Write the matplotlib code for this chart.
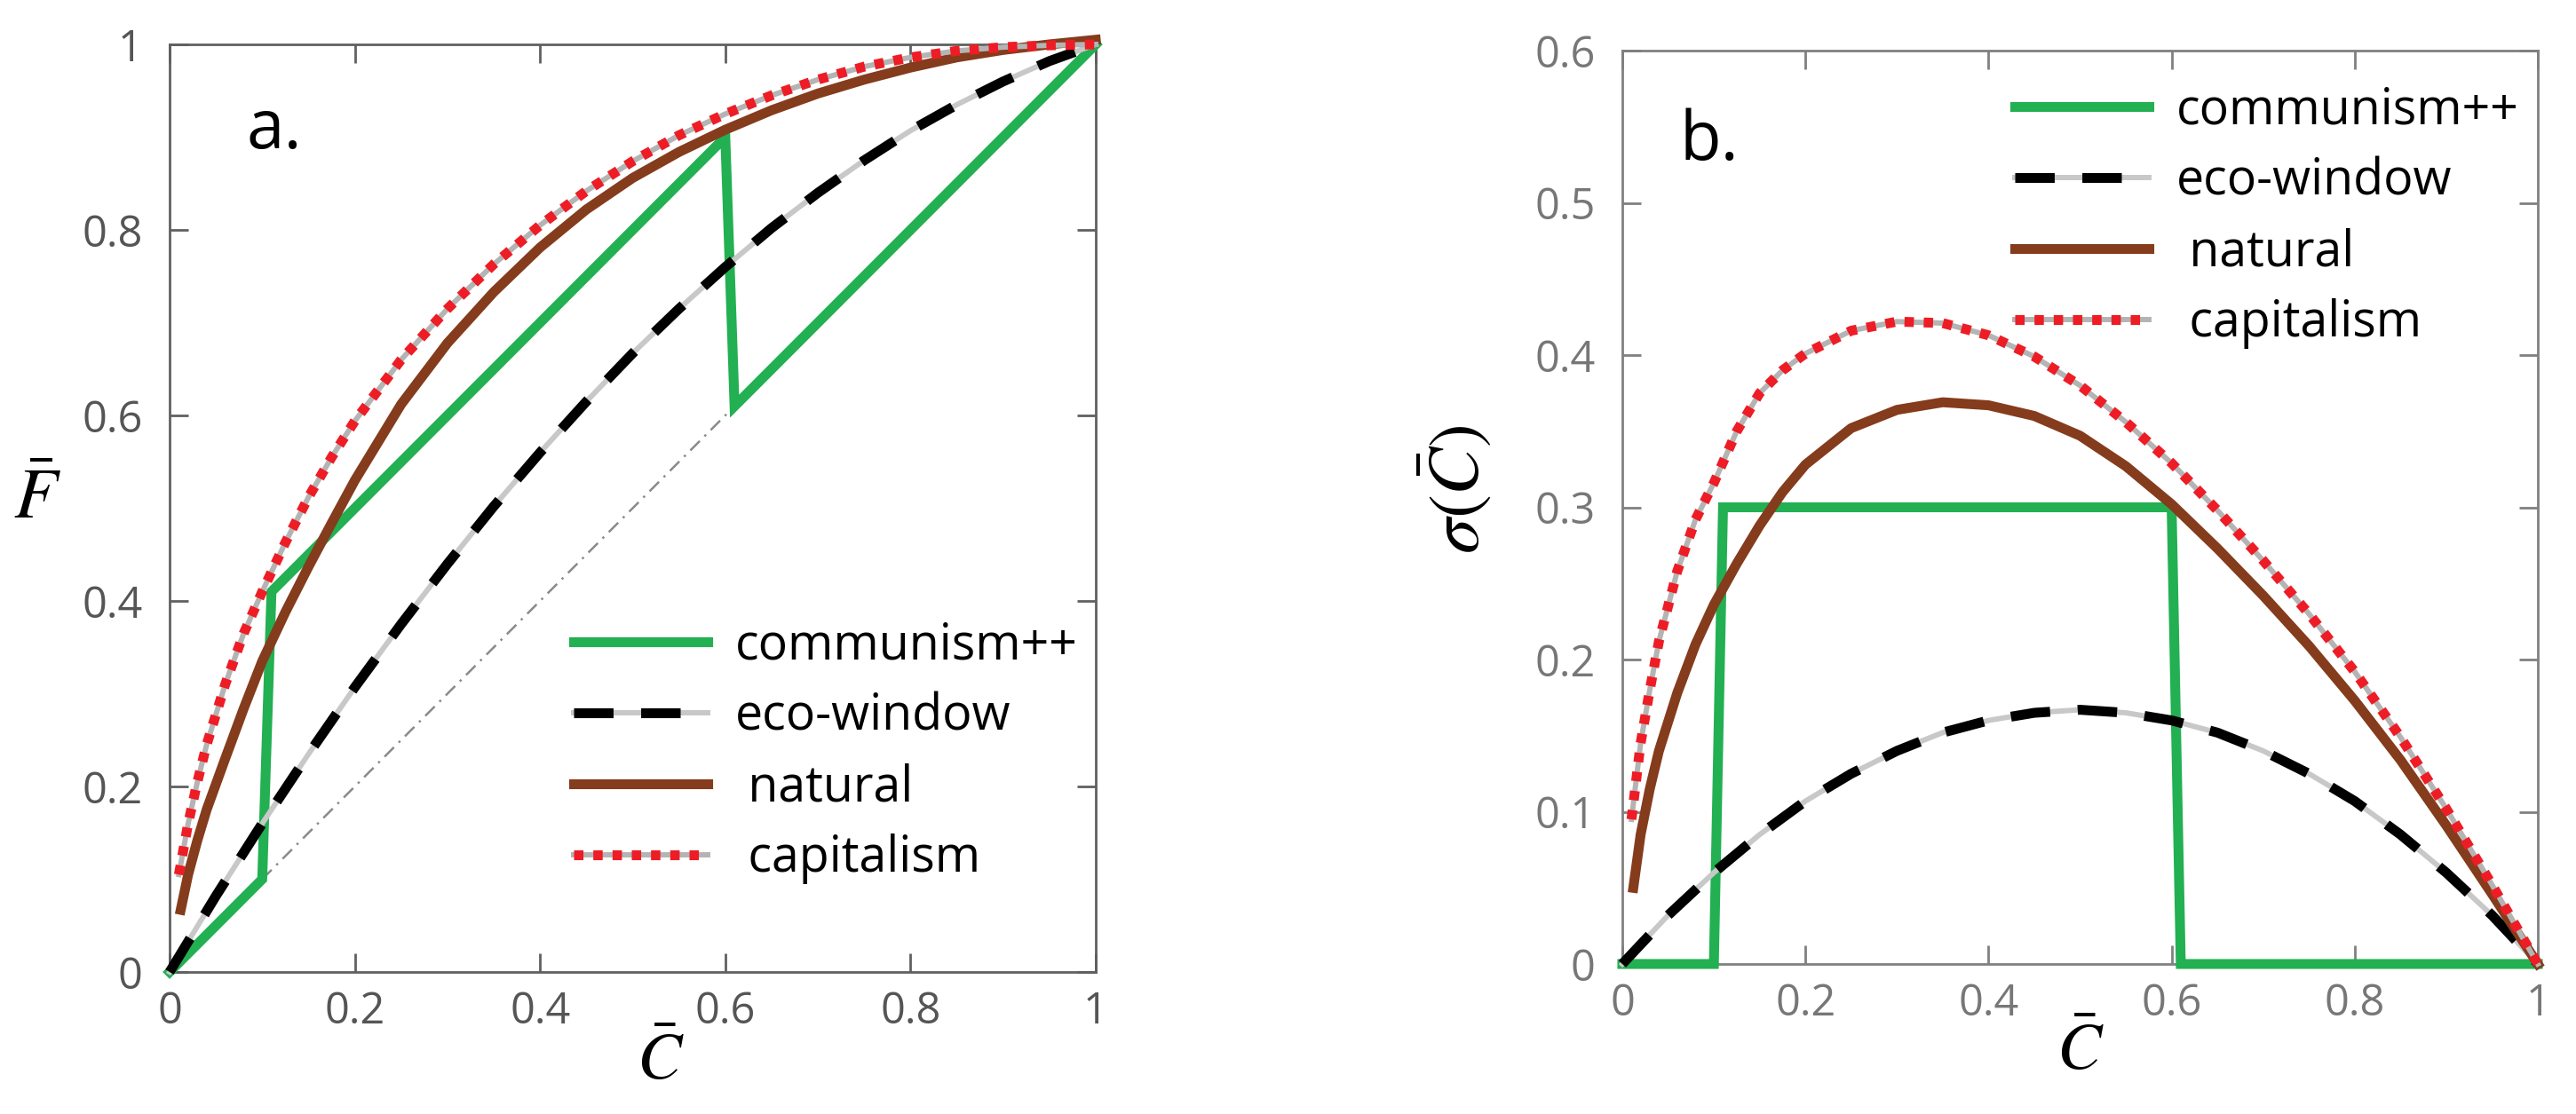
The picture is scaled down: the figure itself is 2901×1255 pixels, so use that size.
import matplotlib
matplotlib.use("Agg")
import matplotlib.pyplot as plt
from matplotlib.legend_handler import HandlerTuple

# values
# grids for the "natural" and "capitalism" curves
c_cap = [0.01, 0.02, 0.03, 0.04, 0.06, 0.08, 0.10, 0.125, 0.15, 0.175, 0.20, 0.25, 0.30, 0.35,
         0.40, 0.45, 0.50, 0.55, 0.60, 0.65, 0.70, 0.75, 0.80, 0.85, 0.90, 0.95, 1.00]
c_nat = [0.012, 0.02, 0.03, 0.04, 0.06, 0.08, 0.10, 0.125, 0.15, 0.175, 0.20, 0.25, 0.30, 0.35,
         0.40, 0.45, 0.50, 0.55, 0.60, 0.65, 0.70, 0.75, 0.80, 0.85, 0.90, 0.95, 1.00]

# panel a: F-bar
f_cap = [0.105, 0.16, 0.205, 0.245, 0.31, 0.365, 0.41, 0.463, 0.512, 0.555, 0.594, 0.66, 0.715, 0.763,
         0.805, 0.842, 0.874, 0.902, 0.925, 0.945, 0.962, 0.976, 0.986, 0.993, 0.997, 0.999, 1.0]
f_nat = [0.067, 0.105, 0.142, 0.175, 0.23, 0.284, 0.335, 0.388, 0.437, 0.484, 0.530, 0.612, 0.678, 0.733,
         0.781, 0.822, 0.856, 0.884, 0.908, 0.929, 0.947, 0.962, 0.975, 0.986, 0.994, 1.0, 1.005]

# panel b: sigma(C-bar)
s_cap = [0.095, 0.145, 0.18, 0.212, 0.258, 0.292, 0.316, 0.35, 0.375, 0.39, 0.401, 0.416, 0.422, 0.421,
         0.413, 0.399, 0.38, 0.356, 0.329, 0.298, 0.265, 0.230, 0.192, 0.149, 0.102, 0.052, 0.0]
s_nat = [0.05, 0.085, 0.115, 0.14, 0.178, 0.21, 0.236, 0.263, 0.288, 0.31, 0.328, 0.352, 0.364, 0.369,
         0.367, 0.360, 0.347, 0.327, 0.302, 0.273, 0.242, 0.209, 0.173, 0.134, 0.091, 0.046, 0.0]

c_eco = [0.0, 0.05, 0.10, 0.15, 0.20, 0.25, 0.30, 0.35, 0.40, 0.45, 0.50,
         0.55, 0.60, 0.65, 0.70, 0.75, 0.80, 0.85, 0.90, 0.95, 1.0]
f_eco = [0.0, 0.082, 0.16, 0.235, 0.307, 0.375, 0.44, 0.502, 0.56, 0.615, 0.667,
         0.715, 0.76, 0.802, 0.84, 0.875, 0.907, 0.935, 0.96, 0.982, 1.0]
s_eco = [0.0, 0.032, 0.06, 0.085, 0.107, 0.125, 0.14, 0.152, 0.16, 0.165, 0.167,
         0.165, 0.16, 0.152, 0.14, 0.125, 0.107, 0.085, 0.06, 0.032, 0.0]

c_com_a = [0.0, 0.10, 0.11, 0.60, 0.61, 1.0]
f_com = [0.0, 0.10, 0.41, 0.90, 0.61, 1.0]
c_com_b = [0.0, 0.10, 0.11, 0.60, 0.61, 1.0]
s_com = [0.0, 0.0, 0.30, 0.30, 0.0, 0.0]

c_diag = [0.10, 0.61]
f_diag = [0.10, 0.61]

labels = ['communism++', 'eco-window', ' natural', ' capitalism']
x_ticks = [0, 0.2, 0.4, 0.6, 0.8, 1.0]
x_ticklabels = ['0', '0.2', '0.4', '0.6', '0.8', '1']
ya_ticks = [0, 0.2, 0.4, 0.6, 0.8, 1.0]
ya_ticklabels = ['0', '0.2', '0.4', '0.6', '0.8', '1']
yb_ticks = [0, 0.1, 0.2, 0.3, 0.4, 0.5, 0.6]
yb_ticklabels = ['0', '0.1', '0.2', '0.3', '0.4', '0.5', '0.6']

GREEN = '#22b052'
BROWN = '#843c1c'
RED = '#ee1c25'

plt.rcParams['font.family'] = ['Open Sans', 'DejaVu Sans']
plt.rcParams['mathtext.fontset'] = 'stix'

fig = plt.figure(figsize=(29.01, 12.55), dpi=100)
ax_a = fig.add_axes([0.06584, 0.12749, 0.35953, 0.83267])
ax_b = fig.add_axes([0.62978, 0.13466, 0.35540, 0.81992])

LW = 8
BG_LW = 4.3


def draw_curves(ax, cc, yc, ce, ye, cn, yn, cp, yp):
    h_com, = ax.plot(cc, yc, color=GREEN, lw=LW, solid_joinstyle='miter', clip_on=False, zorder=3)
    h_eco_bg, = ax.plot(ce, ye, color='#c8c8c8', lw=BG_LW, clip_on=False, zorder=4)
    h_eco, = ax.plot(ce, ye, color='black', lw=LW, linestyle=(0, (4.0, 2.8)),
                     dash_capstyle='butt', clip_on=False, zorder=5)
    h_nat, = ax.plot(cn, yn, color=BROWN, lw=LW, clip_on=False, zorder=6)
    h_cap_bg, = ax.plot(cp, yp, color='#b4b4b4', lw=BG_LW, clip_on=False, zorder=7)
    h_cap, = ax.plot(cp, yp, color=RED, lw=LW, linestyle=(0, (0.95, 1.0)),
                     dash_capstyle='butt', clip_on=False, zorder=8)
    return [h_com, (h_eco_bg, h_eco), h_nat, (h_cap_bg, h_cap)]


def style_axes(ax, spine_color, label_color, yticks, yticklabels, ylim):
    ax.set_xlim(0, 1)
    ax.set_ylim(*ylim)
    ax.set_xticks(x_ticks)
    ax.set_xticklabels(x_ticklabels)
    ax.set_yticks(yticks)
    ax.set_yticklabels(yticklabels)
    for sp in ax.spines.values():
        sp.set_color(spine_color)
        sp.set_linewidth(2)
    ax.tick_params(direction='in', length=15, width=2, color=spine_color,
                   top=True, right=True, labelsize=35, labelcolor=label_color)
    ax.tick_params(axis='x', pad=15)
    ax.tick_params(axis='y', pad=22)


# panel a
ax_a.plot(c_diag, f_diag, color='#8a8a8a', lw=1.8, linestyle=(0, (6, 3, 1, 3)), zorder=2)
handles_a = draw_curves(ax_a, c_com_a, f_com, c_eco, f_eco, c_nat, f_nat, c_cap, f_cap)
style_axes(ax_a, '#606060', '#555555', ya_ticks, ya_ticklabels, (0, 1))
ax_a.text(0.0825, 0.888, 'a.', fontsize=55, color='black', transform=ax_a.transAxes,
          ha='left', va='baseline')
ax_a.text(0.530, -0.097, r'$\bar{C}$', fontsize=54, transform=ax_a.transAxes,
          ha='center', va='center')
ax_a.text(-0.143, 0.509, r'$\bar{F}$', fontsize=58, transform=ax_a.transAxes,
          ha='center', va='center')

# panel b
handles_b = draw_curves(ax_b, c_com_b, s_com, c_eco, s_eco, c_nat, s_nat, c_cap, s_cap)
style_axes(ax_b, '#808080', '#777777', yb_ticks, yb_ticklabels, (0, 0.6))
ax_b.text(0.063, 0.8805, 'b.', fontsize=55, color='black', transform=ax_b.transAxes,
          ha='left', va='baseline')
ax_b.text(0.5005, -0.097, r'$\bar{C}$', fontsize=54, transform=ax_b.transAxes,
          ha='center', va='center')
ax_b.text(-0.181, 0.52, r'$\sigma(\bar{C})$', fontsize=58, rotation=90,
          transform=ax_b.transAxes, ha='center', va='center')

legend_kw = dict(handler_map={tuple: HandlerTuple(ndivide=1, pad=0)}, loc='center left',
                 frameon=False, fontsize=40, handlelength=2.72, handletextpad=0.56,
                 labelspacing=0.41, borderpad=0, borderaxespad=0)
ax_a.legend(handles_a, labels, bbox_to_anchor=(0.4362, 0.2364), **legend_kw)
ax_b.legend(handles_b, labels, bbox_to_anchor=(0.4287, 0.8173), **legend_kw)

fig.savefig('out.png', dpi=100)
